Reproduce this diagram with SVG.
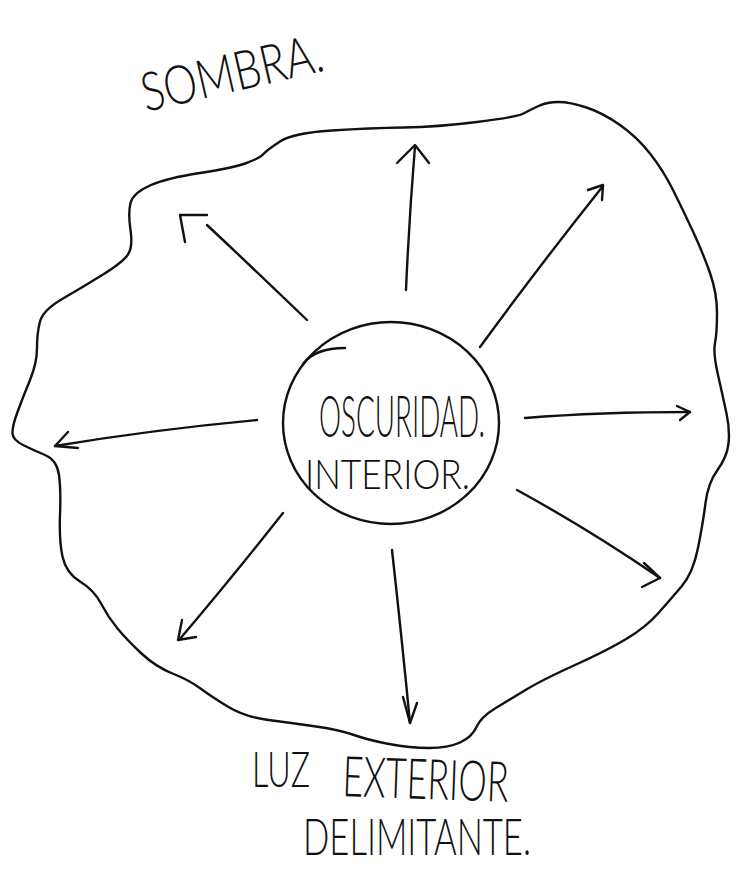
<svg xmlns="http://www.w3.org/2000/svg" width="740" height="880" viewBox="0 0 740 880">
<style>
.ln{fill:none;stroke:#111;stroke-width:2.4;stroke-linecap:round;stroke-linejoin:round}
.tx{font-family:"Lato","Liberation Sans",sans-serif;font-weight:300;fill:#111}
</style>
<rect width="740" height="880" fill="#fff"/>
<g id="sombra-label">
<text class="tx" x="0" y="0" font-size="54" textLength="185" lengthAdjust="spacingAndGlyphs" transform="translate(146,112) rotate(-13)">SOMBRA.</text>
</g>
<g id="outer-blob">
<path class="ln" d="M130.5,230 Q128,213 130.5,203 Q133,193 150,185.5 Q167,178 200,173 Q233,168 246.5,163 Q260,158 263.5,154 Q267,150 280,141.5 Q293,133 331.5,130.5 Q370,128 403.5,127.5 Q437,127 477,122 Q517,117 523.5,113.5 Q530,110 538.5,106 Q547,102 558.5,102 Q570,102 586.5,107.5 Q603,113 620,125 Q637,137 650,153.5 Q663,170 673,190 Q683,210 693,231.5 Q703,253 710,273 Q717,293 717,313 Q717,333 715,343 Q713,353 718,375 Q723,397 726.5,413.5 Q730,430 728.5,443.5 Q727,457 717.5,470 Q708,483 705.5,503 Q703,523 698,548 Q693,573 681.5,586.5 Q670,600 658,613.5 Q646,627 627,638.5 Q608,650 575,665 Q542,680 525.5,690 Q509,700 495,708.5 Q481,717 476.5,727 Q472,737 460,742.5 Q448,748 429,748 Q410,748 389,744 Q368,740 354,735 Q340,730 316,726.5 Q292,723 268.5,720 Q245,717 228.5,707 Q212,697 200.5,688.5 Q189,680 172.5,673.5 Q156,667 141.5,653.5 Q127,640 117.5,628.5 Q108,617 101,603.5 Q94,590 80,581.5 Q66,573 62.5,556.5 Q59,540 60,515 Q61,490 59,475 Q57,460 45,455 Q33,450 23,445 Q13,440 12.5,433.5 Q12,427 17.5,412 Q23,397 30,380 Q37,363 37,348 Q37,333 40,321.5 Q43,310 63,298.5 Q83,287 103,274.5 Q123,262 128,254.5 Q133,247 130.5,230 Z"/>
</g>
<g id="center-node">
<ellipse class="ln" cx="391" cy="423" rx="108" ry="101"/>
<path class="ln" d="M303,364 Q315,348 345,348"/>
<text class="tx" x="319" y="437" font-size="57" textLength="166" lengthAdjust="spacingAndGlyphs">OSCURIDAD.</text>
<text class="tx" x="305" y="489" font-size="41" textLength="165" lengthAdjust="spacingAndGlyphs">INTERIOR.</text>
</g>
<g id="luz-label">
<text class="tx" x="252" y="787" font-size="50" textLength="58" lengthAdjust="spacingAndGlyphs">LUZ</text>
<text class="tx" x="342" y="796" font-size="56" textLength="166" lengthAdjust="spacingAndGlyphs" transform="rotate(2 342 796)">EXTERIOR</text>
<text class="tx" x="303" y="855" font-size="52" textLength="228" lengthAdjust="spacingAndGlyphs">DELIMITANTE.</text>
</g>
<g id="connectors">
<path class="ln" d="M406,290 Q409,220 415,146"/>
<path class="ln" d="M397,163 L415,145 L429,163"/>
<path class="ln" d="M480,347 Q540,265 603,186"/>
<path class="ln" d="M588,190 L603,185 L602,200"/>
<path class="ln" d="M525,418 Q600,412 690,412"/>
<path class="ln" d="M677,406 L690,412 L680,420"/>
<path class="ln" d="M307,320 Q255,270 207,225"/>
<path class="ln" d="M207,215 L180,215 L185,242"/>
<path class="ln" d="M257,420 Q150,430 55,446"/>
<path class="ln" d="M68,432 L55,446 L78,448"/>
<path class="ln" d="M283,513 Q230,580 179,640"/>
<path class="ln" d="M182,620 L178,640 L196,637"/>
<path class="ln" d="M392,550 Q402,640 410,723"/>
<path class="ln" d="M403,697 L410,723 L417,703"/>
<path class="ln" d="M517,490 Q590,530 660,578"/>
<path class="ln" d="M644,563 L660,578 L642,587"/>
</g>
</svg>
